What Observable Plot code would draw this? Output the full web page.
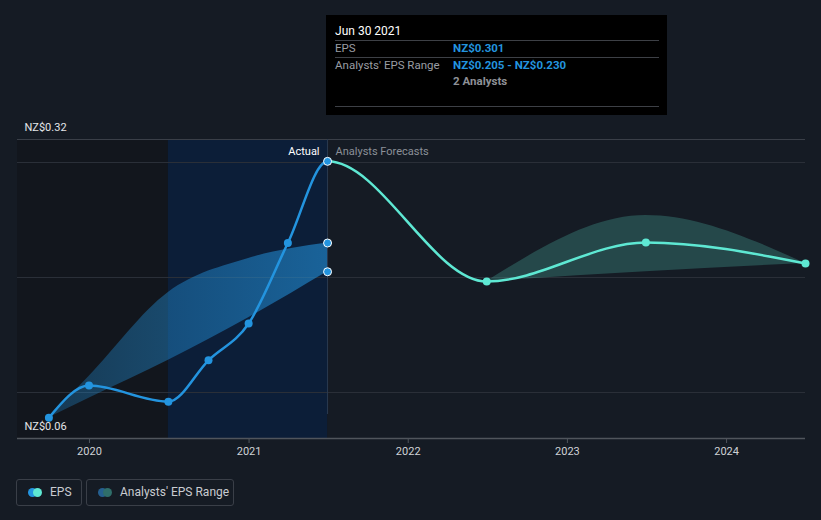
<!DOCTYPE html>
<html><head><meta charset="utf-8">
<script src="https://cdn.jsdelivr.net/npm/d3@7"></script>
<script src="https://cdn.jsdelivr.net/npm/@observablehq/plot@0.6"></script>
<style>
html,body{margin:0;padding:0;background:#151b24;}
body{font-family:Roboto,"Noto Sans",sans-serif;}
#wrap{position:relative;width:821px;height:520px;overflow:hidden;background:#151b24;}
#chart{position:absolute;left:0;top:0;}
#tip{position:absolute;top:15px;width:341px;height:100px;background:#000;}
#tip div{position:absolute;white-space:nowrap;line-height:14px;}
#tip .hr{height:1px;background:#3d4046;left:9px;width:324px;}
#tip .title{left:9px;top:9px;color:#fff;font-size:12px;}
#tip .k{left:9px;color:#9a9da3;font-size:11.5px;}
#tip .v{left:127px;color:#2394df;font-size:11.5px;font-weight:bold;}
#tip .n{left:127px;color:#8e9197;font-size:11.5px;font-weight:bold;}
.lg{position:absolute;top:479px;height:25px;border:1px solid #3a3f48;border-radius:3px;box-sizing:content-box;}
.lg .c{position:absolute;top:8px;width:9px;height:9px;border-radius:50%;}
.lg .tx{position:absolute;top:5px;font-size:12px;color:#c9ccd1;white-space:nowrap;line-height:15px;}
</style></head><body>
<div id="wrap"><div id="chart"></div><div id="tip"></div><div id="legend"></div></div>
<script>
// ---- data ----
const actualDates = ["2019-09-30","2019-12-31","2020-06-30","2020-09-30","2020-12-31","2021-03-31","2021-06-30"];
const actualEps   = [0.078, 0.106, 0.092, 0.128, 0.160, 0.230, 0.301];
const forecastDates = ["2021-06-30","2022-06-30","2023-06-30","2024-06-30"];
const forecastEps   = [0.301, 0.1965, 0.2304, 0.2122];
const pastRangeDates = ["2019-09-30","2019-12-31","2020-06-30","2020-12-31","2021-06-30"];
const pastRangeLow   = [0.078, 0.095, 0.128, 0.165, 0.205];
const pastRangeHigh  = [0.078, 0.114, 0.187, 0.2165, 0.230];
const fcRangeDates = ["2022-06-30","2023-06-30","2024-06-30"];
const fcRangeLow   = [0.1965, 0.205, 0.2122];
const fcRangeHigh  = [0.1965, 0.254, 0.2122];
const yearTicks = ["2020","2021","2022","2023","2024"];
const yLabelValues = [0.32, 0.06];
const gridValues = [0.1, 0.2, 0.3];
const xDomain = ["2019-07-20","2024-06-30"];
const yDomain = [0.06, 0.32];
const pastStart = "2020-06-30";
const nowDate = "2021-06-30";
const analystsCount = 2;

const D = s => new Date(s + "T00:00:00Z");
const fmt = v => "NZ$" + v.toFixed(3);
const yFmt = v => "NZ$" + v.toFixed(2);

const actual = actualDates.map((d,i)=>({date:D(d), eps:actualEps[i]}));
const forecast = forecastDates.map((d,i)=>({date:D(d), eps:forecastEps[i]}));
const allEps = actual.concat(forecast.slice(1));
const pastRange = pastRangeDates.map((d,i)=>({date:D(d), lo:pastRangeLow[i], hi:pastRangeHigh[i]}));
const fcRange = fcRangeDates.map((d,i)=>({date:D(d), lo:fcRangeLow[i], hi:fcRangeHigh[i]}));
const nowPts = [{date:D(nowDate), v:pastRangeHigh.at(-1)},{date:D(nowDate), v:pastRangeLow.at(-1)}];
const regions = [
  {x1:D(xDomain[0]), x2:D(pastStart), y1:yDomain[0], y2:yDomain[1], fill:"#12161d"},
  {x1:D(pastStart), x2:D(nowDate), y1:yDomain[0], y2:yDomain[1], fill:"#0c1e38"}
];

const plot = Plot.plot({
  width: 821, height: 465,
  marginLeft: 17, marginRight: 16, marginTop: 139, marginBottom: 27,
  style: {background:"transparent", fontFamily:"Roboto, sans-serif", fontSize:"11px", overflow:"visible"},
  x: {type:"utc", domain: xDomain.map(D)},
  y: {domain: yDomain, axis: null},
  marks: [
    Plot.rect(regions, {x1:"x1", x2:"x2", y1:"y1", y2:"y2", fill:"fill"}),
    Plot.ruleY(gridValues, {stroke:"#2a2f38", strokeWidth:1}),
    Plot.ruleY([yDomain[1]], {stroke:"#3a3f48", strokeWidth:1}),
    Plot.areaY(pastRange, {x:"date", y1:"lo", y2:"hi", curve:"monotone-x", fill:"url(#pastGrad)"}),
    Plot.areaY(fcRange, {x:"date", y1:"lo", y2:"hi", curve:"monotone-x", fill:"#5ee8d3", fillOpacity:0.22}),
    Plot.ruleX([D(nowDate)], {y1:yDomain[0], y2:yDomain[1], insetTop:-24, stroke:"#2b3a50", strokeWidth:1}),
    Plot.line(allEps, {x:"date", y:"eps", curve:"monotone-x", stroke:"url(#epsGrad)", strokeWidth:2.5}),
    Plot.dot(actual.slice(0,-1), {x:"date", y:"eps", r:4, fill:"#2394df"}),
    Plot.dot(forecast.slice(1), {x:"date", y:"eps", r:4, fill:"#5ee8d3"}),
    Plot.dot(nowPts, {x:"date", y:"v", r:4, fill:"#2394df", stroke:"#ffffff", strokeWidth:1}),
    Plot.dot(actual.slice(-1), {x:"date", y:"eps", r:4, fill:"#2394df", stroke:"#ffffff", strokeWidth:1}),
    Plot.text(["Actual"], {x:()=>D(nowDate), y:()=>yDomain[1], dx:-8, dy:12, textAnchor:"end", fill:"#ffffff", fontSize:11}),
    Plot.text(["Analysts Forecasts"], {x:()=>D(nowDate), y:()=>yDomain[1], dx:8, dy:12, textAnchor:"start", fill:"#8b9098", fontSize:11}),
    Plot.text(yLabelValues, {y:d=>d, text:yFmt, frameAnchor:"left", dx:7, dy:-12, textAnchor:"start", fill:"#e4e6e9", fontSize:11}),
    Plot.ruleY([yDomain[0]], {stroke:"#50555c", strokeWidth:1.5}),
    Plot.axisX({ticks: yearTicks.map(y=>D(y+"-01-01")), tickFormat: d3.utcFormat("%Y"), tickSize:5, tickPadding:4, stroke:"#50555c", fill:"#cfd2d6", fontSize:11})
  ]
});
document.getElementById("chart").appendChild(plot);

const svg = plot.tagName.toLowerCase() === "svg" ? plot : plot.querySelector("svg");
const xs = plot.scale("x");
const xNow = xs.apply(D(nowDate));
const off = (xNow / 821 * 100).toFixed(3) + "%";
const defs = document.createElementNS("http://www.w3.org/2000/svg","defs");
defs.innerHTML = `
<linearGradient id="epsGrad" gradientUnits="userSpaceOnUse" x1="0" y1="0" x2="821" y2="0">
  <stop offset="0%" stop-color="#2394df"/><stop offset="${off}" stop-color="#2394df"/>
  <stop offset="${off}" stop-color="#5ee8d3"/><stop offset="100%" stop-color="#5ee8d3"/>
</linearGradient>
<linearGradient id="pastGrad" x1="0" y1="0" x2="1" y2="0">
  <stop offset="0%" stop-color="#2394df" stop-opacity="0.28"/>
  <stop offset="100%" stop-color="#2394df" stop-opacity="0.58"/>
</linearGradient>`;
svg.insertBefore(defs, svg.firstChild);

// tooltip
const tip = document.getElementById("tip");
tip.style.left = (xNow - 1) + "px";
const lastEps = actualEps.at(-1);
tip.innerHTML = `
<div class="title">${d3.utcFormat("%b %d %Y")(D(nowDate))}</div>
<div class="hr" style="top:25px"></div>
<div class="k" style="top:26px">EPS</div><div class="v" style="top:26px">${fmt(lastEps)}</div>
<div class="hr" style="top:42px"></div>
<div class="k" style="top:43px">Analysts' EPS Range</div><div class="v" style="top:43px">${fmt(pastRangeLow.at(-1))} - ${fmt(pastRangeHigh.at(-1))}</div>
<div class="n" style="top:59px">${analystsCount} Analysts</div>
<div class="hr" style="top:91px"></div>`;

// legend
const legend = document.getElementById("legend");
legend.innerHTML = `
<div class="lg" style="left:16px;width:64px">
  <div class="c" style="left:11px;background:#2394df"></div><div class="c" style="left:16px;background:#5ee8d3"></div>
  <div class="tx" style="left:33px">EPS</div>
</div>
<div class="lg" style="left:86px;width:146px">
  <div class="c" style="left:11px;background:#255f8f"></div><div class="c" style="left:16px;background:#2f6e6a"></div>
  <div class="tx" style="left:33px">Analysts' EPS Range</div>
</div>`;
</script>
</body></html>
